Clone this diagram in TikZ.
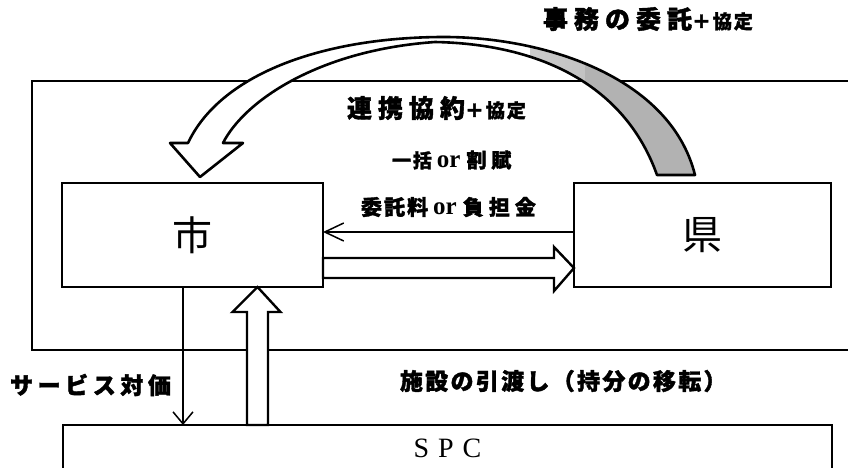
\documentclass[tikz,border=0pt]{standalone}
\usepackage{fontspec}
\setmainfont{Liberation Serif}
\newfontfamily\jp{Noto Sans CJK JP}
\newfontfamily\jpA[LetterSpace=24,BoldFeatures={FakeBold=1.6}]{Noto Sans CJK JP}
\newfontfamily\jpB[LetterSpace=10,BoldFeatures={FakeBold=1.6}]{Noto Sans CJK JP}
\newfontfamily\jpC[LetterSpace=20,BoldFeatures={FakeBold=1.6}]{Noto Sans CJK JP}
\usetikzlibrary{arrows.meta,calc}
\begin{document}
\begin{tikzpicture}[x=1pt,y=-1pt,
  boxnode/.style={draw,line width=2.4pt,fill=white,outer sep=0pt,inner sep=0pt},
  lbl/.style={anchor=west,inner sep=0pt,outer sep=0pt},
  thinarr/.style={line width=1.5pt},
  hollow/.style={draw,line width=2.4pt,fill=white,line join=miter}
]
\useasboundingbox (0,0) rectangle (848,467);

% surrounding region
\draw[line width=2.4pt] (32,81) rectangle (880,350);

% boxes
\node[boxnode,minimum width=261pt,minimum height=104pt] (shi) at (192.5,235)
  {\jp\fontsize{40}{40}\selectfont 市};
\node[boxnode,minimum width=257pt,minimum height=104pt] (ken) at (702.5,235)
  {\jp\fontsize{40}{40}\selectfont 県};
\node[boxnode,minimum width=769pt,minimum height=50pt] (spc) at (447.5,450)
  {\raisebox{3pt}{\fontsize{28}{28}\selectfont S\hspace{9pt}P\hspace{9pt}C}};

% curved block arrow from ken to shi
\coordinate (ctip) at ($(shi.north)+(7.5,-6)$);
\draw[line width=2.6pt,fill=white,line join=round,
  path picture={
    \shade[left color=white,right color=gray!60] (530,20) rectangle (585,190);
    \fill[gray!60] (585,20) rectangle (730,190);
  }]
  (ctip) -- (243,143) -- (223,143)
  .. controls (245,100) and (320,50) .. (435,42)
  .. controls (540,44) and (625,85) .. (657,175)
  -- (695,175)
  .. controls (670,75) and (540,36) .. (440,37)
  .. controls (320,38) and (220,75) .. (188,143)
  -- (170,143) -- cycle;

% thin arrow ken -> shi
\draw[thinarr,-{Straight Barb[length=19pt,width=18pt]}]
  ($(ken.west)+(0,-3)$) -- ($(shi.east)+(0,-3)$);

% hollow arrow shi -> ken
\filldraw[hollow]
  ($(shi.east)+(0,23)$) -- ($(ken.west)+(-20,23)$) -- ($(ken.west)+(-20,12)$)
  -- ($(ken.west)+(0,33)$) -- ($(ken.west)+(-20,56)$) -- ($(ken.west)+(-20,43)$)
  -- ($(shi.east)+(0,43)$) -- cycle;

% thin arrow shi -> spc
\coordinate (dx) at (183,0);
\draw[thinarr,-{Straight Barb[length=12pt,width=20pt]}]
  (dx |- shi.south) -- (dx |- spc.north);

% hollow arrow spc -> shi
\coordinate (ux) at (257.5,0);
\filldraw[hollow]
  ($(ux |- spc.north)+(-10.5,0)$) -- ($(ux |- shi.south)+(-10.5,25)$)
  -- ($(ux |- shi.south)+(-25,25)$) -- (ux |- shi.south)
  -- ($(ux |- shi.south)+(23,25)$) -- ($(ux |- shi.south)+(10.5,25)$)
  -- ($(ux |- spc.north)+(10.5,0)$) -- cycle;

% labels
\node[lbl] (t1) at (543,19)
  {\bfseries\jpA\fontsize{25}{25}\selectfont 事務の委託\jpB\fontsize{19}{19}\selectfont ＋協定};
\node[lbl] (t2) at (347,108)
  {\bfseries\jpA\fontsize{25}{25}\selectfont 連携協約\jpB\fontsize{19}{19}\selectfont ＋協定};
\node[lbl] (t3) at (392,160)
  {\bfseries\jpB\fontsize{19}{19}\selectfont 一括\hspace{5pt}{\rmfamily\fontsize{25}{25}\selectfont or}\hspace{6pt}\jpA\fontsize{20}{20}\selectfont 割賦};
\node[lbl] (t4) at (361,207)
  {\bfseries\jpB\fontsize{21}{21}\selectfont 委託料\hspace{5pt}{\rmfamily\fontsize{25}{25}\selectfont or}\hspace{6pt}\jpA\fontsize{21}{21}\selectfont 負担金};
\node[lbl] (t5) at (10,385)
  {\bfseries\jpC\fontsize{23}{23}\selectfont サービス対価};
\node[lbl] (t6) at (400,381)
  {\bfseries\jpB\fontsize{23}{23}\selectfont 施設の引渡し（持分の移転）};
\end{tikzpicture}
\end{document}
